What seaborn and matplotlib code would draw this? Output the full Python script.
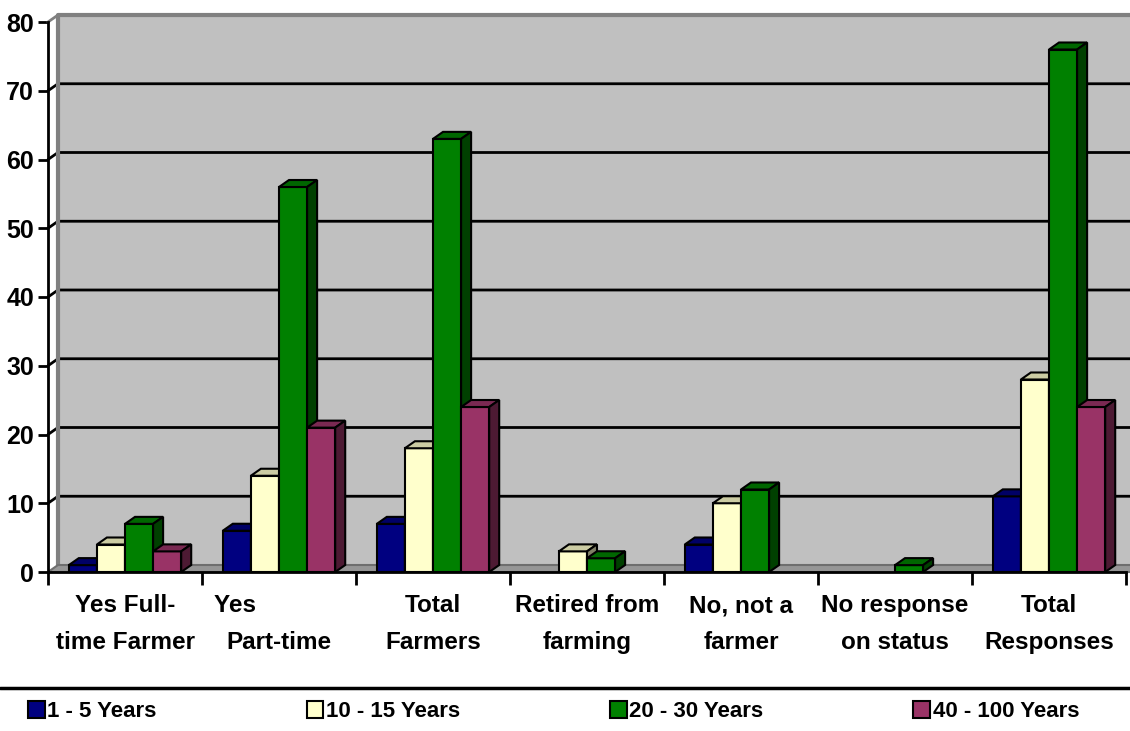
import numpy as np
import pandas as pd
import matplotlib
matplotlib.use("Agg")
import matplotlib.pyplot as plt
import matplotlib.transforms as mtransforms
from matplotlib.patches import Polygon, Rectangle, Patch
from matplotlib.lines import Line2D
from matplotlib import font_manager
import seaborn as sns

# ---- data ----
categories = ["Yes Full-\ntime Farmer", "Yes             \nPart-time", "Total\nFarmers",
              "Retired from\nfarming", "No, not a\nfarmer", "No response\non status",
              "Total\nResponses"]
series = ["1 - 5 Years", "10 - 15 Years", "20 - 30 Years", "40 - 100 Years"]
yrs_1_5 = [1, 6, 7, 0, 4, 0, 11]
yrs_10_15 = [4, 14, 18, 3, 10, 0, 28]
yrs_20_30 = [7, 56, 63, 2, 12, 1, 76]
yrs_40_100 = [3, 21, 24, 0, 0, 0, 24]
colors = ["#000080", "#FFFFCC", "#008000", "#993366"]
y_ticks = [0, 10, 20, 30, 40, 50, 60, 70, 80]

rows = []
for s, vals in zip(series, [yrs_1_5, yrs_10_15, yrs_20_30, yrs_40_100]):
    for c, v in zip(categories, vals):
        rows.append({"cat": c, "series": s, "value": v})
df = pd.DataFrame(rows)

sns.set_theme(style="white")
names = {f.name for f in font_manager.fontManager.ttflist}
fam = "Liberation Sans Narrow" if "Liberation Sans Narrow" in names else "Liberation Sans"
plt.rcParams["font.family"] = [fam, "DejaVu Sans"]
plt.rcParams["font.weight"] = "bold"
plt.rcParams["text.color"] = "black"
plt.rcParams["xtick.color"] = "black"
plt.rcParams["ytick.color"] = "black"

W, H = 1130, 731
fig = plt.figure(figsize=(W / 100, H / 100), dpi=100)
ax = fig.add_axes([48 / W, 159 / H, (1126 - 48) / W, 550 / H])

sns.barplot(data=df, x="cat", y="value", hue="series", order=categories, hue_order=series,
            palette=colors, saturation=1, width=0.73, gap=0, errorbar=None,
            edgecolor="black", linewidth=1.5, legend=False, ax=ax, zorder=3)

ax.set_xlim(-0.5, 6.5)
ax.set_ylim(0, 80)
ax.set_facecolor("white")
ax.set_xlabel("")
ax.set_ylabel("")
fig.canvas.draw()

dx, dy = 10, 7
ident = mtransforms.IdentityTransform()
T = ax.transData

# back wall
off = mtransforms.offset_copy(ax.transData, fig=fig, x=dx, y=dy, units="dots")
ax.add_patch(Rectangle((-0.5, 0), 7.2, 80, transform=off, facecolor="#C0C0C0",
                       edgecolor="none", zorder=0, clip_on=False))
# floor
(fx0, fy0), (fx1, _) = T.transform([(-0.5, 0), (6.5, 0)])
ax.add_patch(Polygon([(fx0, fy0), (fx1 + 20, fy0), (fx1 + 20, fy0 + dy), (fx0 + dx, fy0 + dy)],
                     closed=True, transform=ident, facecolor="#969696", edgecolor="#6E6E6E",
                     lw=1.5, zorder=0.6, clip_on=False))
# gridlines on wall with diagonal on the side wall
for t in y_ticks[1:-1]:
    (gx0, gy0), (gx1, _) = T.transform([(-0.5, t), (6.5, t)])
    ax.add_line(Line2D([gx0, gx0 + dx, gx1 + 20], [gy0, gy0 + dy, gy0 + dy], transform=ident,
                       color="black", lw=2, zorder=0.5, clip_on=False))
# wall border (left edge and top)
(tx0, ty0), (tx1, ty1) = T.transform([(-0.5, 80), (6.5, 80)])
(bx0, by0) = T.transform((-0.5, 0))
ax.add_line(Line2D([bx0 + dx, tx0 + dx, tx1 + 20], [by0 + dy, ty0 + dy, ty0 + dy], transform=ident,
                   color="#808080", lw=3, zorder=0.55, clip_on=False))
ax.add_line(Line2D([tx0, tx0 + dx], [ty0, ty0 + dy], transform=ident,
                   color="#808080", lw=2, zorder=0.55, clip_on=False))


def shade(c, f):
    r, g, b = matplotlib.colors.to_rgb(c)
    return (r * f, g * f, b * f)


bars = sorted([p for p in ax.patches if isinstance(p, Rectangle) and p.get_zorder() == 3],
              key=lambda p: p.get_x())
for k, p in enumerate(bars):
    h = p.get_height()
    if not np.isfinite(h) or h <= 0:
        p.set_visible(False)
        continue
    z = 3 + k * 0.01
    p.set_zorder(z)
    x0, x1 = p.get_x(), p.get_x() + p.get_width()
    (px0, py0), (px1, py1) = T.transform([(x0, 0), (x1, h)])
    fc = p.get_facecolor()
    top = [(px0, py1), (px1, py1), (px1 + dx, py1 + dy), (px0 + dx, py1 + dy)]
    side = [(px1, py0), (px1, py1), (px1 + dx, py1 + dy), (px1 + dx, py0 + dy)]
    ax.add_patch(Polygon(top, closed=True, transform=ident, facecolor=shade(fc, 0.8),
                         edgecolor="black", lw=1.5, zorder=z + 0.001, clip_on=False))
    ax.add_patch(Polygon(side, closed=True, transform=ident, facecolor=shade(fc, 0.5),
                         edgecolor="black", lw=1.5, zorder=z + 0.002, clip_on=False))

# axes styling
for s in ["top", "right"]:
    ax.spines[s].set_visible(False)
for s in ["left", "bottom"]:
    ax.spines[s].set_color("black")
    ax.spines[s].set_linewidth(2)
    ax.spines[s].set_zorder(5)
ax.set_yticks(y_ticks)
ax.set_yticklabels([str(t) for t in y_ticks], fontsize=18, fontweight="bold", color="black")
ax.tick_params(axis="y", direction="out", length=7, width=2, color="black", pad=3, left=True)
ax.set_xticks(range(len(categories)))
ax.set_xticklabels(categories, fontsize=17.5, fontweight="bold", linespacing=1.75, color="black")
ax.set_xticks(np.arange(-0.5, 7, 1), minor=True)
ax.tick_params(axis="x", which="major", length=0, pad=16)
ax.tick_params(axis="x", which="minor", direction="out", length=9, width=2, color="black", bottom=True)
ax.grid(False)

# legend
fig.add_artist(Line2D([0, 1], [(H - 688) / H] * 2, transform=fig.transFigure, color="black", lw=2.5))
handles = [Patch(facecolor=c, edgecolor="black", lw=1.5) for c in colors]
fig.legend(handles, series, loc="lower left", ncol=4, mode="expand",
           bbox_to_anchor=(0.017, 0.0, 0.946, 0.05), frameon=False, borderaxespad=0,
           handlelength=0.75, handleheight=0.75, handletextpad=0.12,
           prop={"size": 16, "weight": "bold"})

fig.savefig("out.png", dpi=100)
